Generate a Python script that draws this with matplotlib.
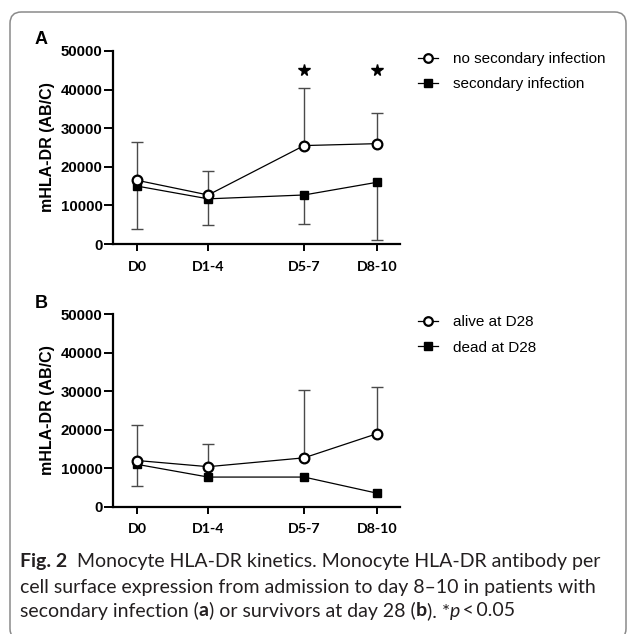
import matplotlib
matplotlib.use("Agg")
import matplotlib.pyplot as plt
from matplotlib.patches import FancyBboxPatch
import numpy as np

# ---------------- data ----------------
categories = ["D0", "D1-4", "D5-7", "D8-10"]
cat_pos = [0.0, 1.0, 2.35, 3.38]          # uneven spacing as in the original

# Panel A
a_no_inf = [16500, 12700, 25500, 26000]
a_no_inf_up = [26500, 19000, 40300, 34000]      # upper ends of error bars
a_inf = [15000, 11700, 12700, 16000]
a_inf_low = [3800, 4800, 5100, 1000]            # lower ends of error bars
a_star_cats = [2, 3]
a_star_y = 45000

# Panel B
b_alive = [12000, 10400, 12700, 19000]
b_alive_up = [21200, 16200, 30300, 31200]
b_dead = [11000, 7700, 7700, 3500]
b_dead_low = [5400, 7700, 7700, 3500]

yticks = [0, 10000, 20000, 30000, 40000, 50000]
ylabel = "mHLA-DR (AB/C)"

W, H = 629, 634
fig = plt.figure(figsize=(W / 100, H / 100), dpi=100)

def fx(px):
    return px / W

def fy(py):
    return 1 - py / H

# frame
frame = FancyBboxPatch((fx(10), fy(640)), fx(616), (640 - 12) / H,
                       boxstyle="round,pad=0,rounding_size=0.018",
                       transform=fig.transFigure, fill=False,
                       edgecolor="#8a8a8a", linewidth=1.1)
fig.patches.append(frame)

tick_font = dict(family="Liberation Sans", weight="bold", size=10.8)
xtick_font = dict(family="Lato", weight="bold", size=10.3)

def make_panel(top_px, bottom_px, label, s1, s1_up, s2, s2_low, names, stars):
    ax = fig.add_axes([fx(113), fy(bottom_px), fx(400) - fx(113),
                       (bottom_px - top_px) / H])
    ax.set_xlim(-0.34, 3.70)
    ax.set_ylim(0, 50000)
    for sp in ["top", "right"]:
        ax.spines[sp].set_visible(False)
    for sp in ["left", "bottom"]:
        ax.spines[sp].set_linewidth(1.6)
    ax.set_yticks(yticks)
    ax.set_yticklabels([str(v) for v in yticks], **tick_font)
    ax.set_xticks(cat_pos)
    ax.set_xticklabels(categories, **xtick_font)
    ax.tick_params(axis="y", direction="out", length=6.5, width=1.4, pad=1)
    ax.tick_params(axis="x", direction="out", length=5, width=1.4, pad=7)
    ax.set_ylabel(ylabel, family="Liberation Sans", weight="bold", size=11.5,
                  labelpad=4)
    ax.patch.set_alpha(0)

    ec = "#4a4a4a"
    # error bars: upper only for series 1
    ax.vlines(cat_pos, s1, s1_up, color=ec, lw=1.0, zorder=1)
    ax.plot(cat_pos, s1_up, ls="none", marker="_", ms=8, mew=1.0, color=ec, zorder=1)
    # lower only for series 2
    ax.vlines(cat_pos, s2_low, s2, color=ec, lw=1.0, zorder=1)
    low_pts = [(p, v) for p, v, m in zip(cat_pos, s2_low, s2) if v < m]
    ax.plot([p for p, _ in low_pts], [v for _, v in low_pts], ls="none",
            marker="_", ms=8, mew=1.0, color=ec, zorder=1)

    l2, = ax.plot(cat_pos, s2, color="black", lw=0.9, marker="s", ms=6.2,
                  mfc="black", mec="black", zorder=3, label=names[1])
    l1, = ax.plot(cat_pos, s1, color="black", lw=0.9, marker="o", ms=7,
                  mfc="white", mec="black", mew=1.6, zorder=4, label=names[0])
    if stars:
        ax.plot([cat_pos[i] for i in stars], [a_star_y] * len(stars), ls="none",
                marker="*", ms=8.5, color="black", zorder=5)

    leg = ax.legend(handles=[l1, l2], loc="upper left",
                    bbox_to_anchor=(fx(418), fy(top_px + 1)),
                    bbox_transform=fig.transFigure, frameon=False,
                    handlelength=1.3, handletextpad=1.0, labelspacing=0.75,
                    borderaxespad=0, borderpad=0,
                    prop=dict(family="Liberation Sans", size=11))
    for h in leg.legend_handles:
        h.set_markersize(6.2)
    fig.text(fx(41), fy(top_px - 11), label, family="Liberation Sans",
             weight="bold", size=13, ha="center", va="center")
    return ax

make_panel(51, 244, "A", a_no_inf, a_no_inf_up, a_inf, a_inf_low,
           ["no secondary infection", "secondary infection"], a_star_cats)
make_panel(314.3, 506.7, "B", b_alive, b_alive_up, b_dead, b_dead_low,
           ["alive at D28", "dead at D28"], [])

# ---------------- caption ----------------
cap_lines = [
    [("Fig. 2", "bold", "normal"), ("  Monocyte HLA-DR kinetics. Monocyte HLA-DR antibody per", "normal", "normal")],
    [("cell surface expression from admission to day 8\u201310 in patients with", "normal", "normal")],
    [("secondary infection (", "normal", "normal"), ("a", "bold", "normal"),
     (") or survivors at day 28 (", "normal", "normal"), ("b", "bold", "normal"),
     ("). *", "normal", "normal"), ("p", "normal", "italic"), ("\u2009<\u20090.05", "normal", "normal")],
]
cap_y = [562, 587, 611]
cap_size = 14.0
renderer = fig.canvas.get_renderer()
for line, ypx in zip(cap_lines, cap_y):
    x = 20
    for txt, wt, st in line:
        t = fig.text(fx(x), fy(ypx), txt, family=["Lato", "DejaVu Sans"],
                     weight=wt, style=st, size=cap_size, ha="left",
                     va="center", color="#231f20")
        bb = t.get_window_extent(renderer=renderer)
        x += bb.width

fig.savefig("out.png", dpi=100)
